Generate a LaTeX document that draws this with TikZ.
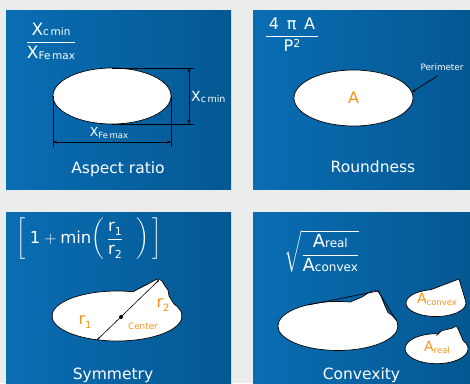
\RequirePackage{fix-cm}
\documentclass[tikz,border=0pt]{standalone}
\usepackage{amsmath}
\usepackage{fontspec}
\setmainfont{DejaVu Sans}
\usetikzlibrary{arrows.meta, positioning, calc}

\definecolor{bggray}{HTML}{EBECEC}
\definecolor{panelL}{HTML}{0A6DB3}
\definecolor{panelR}{HTML}{045892}
\definecolor{tagorange}{HTML}{F7941D}

\newcommand{\lowtxt}[3][0.25ex]{\raisebox{-#1}{\fontsize{#2}{#2}\selectfont #3}}

\begin{document}
\begin{tikzpicture}[x=1pt, y=-1pt,
    every node/.style={inner sep=0pt, text=white},
    panel/.style={left color=panelL, right color=panelR},
    blob/.style={draw=black, fill=white, line width=0.7pt},
    dimline/.style={black, line width=0.7pt},
    dimarrow/.style={dimline, {Stealth[length=4pt, width=3pt]}-{Stealth[length=4pt, width=3pt]}},
    caption/.style={anchor=base, font=\fontsize{15.5}{16}\selectfont},
    formula/.style={font=\fontsize{17}{18}\selectfont},
    tag/.style={text=tagorange},
  ]
  \useasboundingbox (0,0) rectangle (470,383);
  \fill[bggray] (0,0) rectangle (470,383);
  \foreach \px/\py/\pw/\ph in {6/10/225/179, 253/10/217/179, 6/212/225/171, 253/212/217/171}
    \shade[panel] (\px,\py) rectangle ++(\pw,\ph);

  % aspect ratio
  \draw[blob] (112,96) ellipse [x radius=59, y radius=28];
  \coordinate (ellTop) at (112,68);
  \coordinate (ellBot) at (112,124);
  \coordinate (ellLeft) at (53,96);
  \coordinate (ellRight) at (171,96);
  \coordinate (dimTopEnd) at (194,68);
  \coordinate (dimBotEnd) at (194,124);
  \coordinate (dimLeftEnd) at (53,147);
  \coordinate (dimRightEnd) at (171,147);
  \draw[dimline] (ellTop) -- (dimTopEnd);
  \draw[dimline] (ellBot) -- (dimBotEnd);
  \draw[dimline] (ellLeft) -- (dimLeftEnd);
  \draw[dimline] (ellRight) -- (dimRightEnd);
  \draw[dimarrow] ($(dimTopEnd)+(-5,0)$) -- ($(dimBotEnd)+(-5,0)$);
  \draw[dimarrow] ($(dimLeftEnd)+(0,-5)$) -- ($(dimRightEnd)+(0,-5)$);
  \node[font=\fontsize{14}{14}\selectfont, anchor=west] (xcmin) at (191,97) {X\lowtxt{9.5}{c\,min}};
  \node[font=\fontsize{12.5}{13}\selectfont] (xfemax) at (109,133) {X\lowtxt{8.5}{Fe\,max}};
  \node[formula] (ratio) at (51,41)
    {$\displaystyle\frac{\mbox{X\lowtxt[0pt]{10.5}{c\,min}}}{\mbox{X\lowtxt[0.1ex]{10.5}{Fe\,max}}}$};
  \node[caption] (capAspect) at (118,173) {Aspect ratio};

  % roundness
  \draw[blob] (353.5,98) ellipse [x radius=59.5, y radius=28];
  \node[tag, font=\fontsize{16}{16}\selectfont] (area) at (353.5,98) {A};
  \node[font=\fontsize{8.8}{9}\selectfont] (perim) at (442,67) {Perimeter};
  \coordinate (perimTip) at (412,92);
  \draw[dimline, -{Stealth[length=4pt, width=3pt]}] ($(perim.south)+(-4,5)$) -- (perimTip);
  \node[formula, font=\fontsize{16}{16}\selectfont] (round) at (292,35)
    {$\displaystyle\frac{\mbox{\,4\, π\, A\,}}{\mbox{P\raisebox{0.55ex}{\fontsize{11}{11}\selectfont 2}}}$};
  \node[caption] (capRound) at (373,172.7) {Roundness};

  % symmetry
  \draw[blob] (133,291.8) -- (140,288) -- (148,284) -- (155,280) -- (159,279) -- (162,281)
    -- (165,286) -- (168,290) -- (169,296) -- (174,304)
    arc[start angle=-28.7, end angle=284.3, x radius=65, y radius=25] -- cycle;
  \coordinate (radEnd1) at (97,340);
  \coordinate (radEnd2) at (159,280);
  \draw[black, line width=0.6pt, {Stealth[length=3pt, width=2.5pt]}-{Stealth[length=3pt, width=2.5pt]}] (radEnd1) -- (radEnd2);
  \node[circle, fill=black, minimum size=4pt] (ctr) at (121,317) {};
  \node[tag, font=\fontsize{16}{16}\selectfont] (rOne) at (85,322) {r\lowtxt[0.5ex]{10}{1}};
  \node[tag, font=\fontsize{16}{16}\selectfont] (rTwo) at (163,305) {r\lowtxt[0.5ex]{10}{2}};
  \node[tag, font=\fontsize{8.8}{9}\selectfont] (ctrLabel) at (143,326) {Center};
  \node[formula, font=\fontsize{16.5}{16.5}\selectfont, anchor=west] (symm) at (16,239)
    {$\displaystyle\bigg[\;\mbox{1}+\mbox{min}\bigg(\,\frac{\mbox{r\lowtxt[0.4ex]{11}{1}}}{\mbox{r\lowtxt[0.4ex]{11}{2}}}\;\;\;\bigg)\,\bigg]$};
  \node[caption] (capSymm) at (113,379.5) {Symmetry};

  % convexity
  \draw[blob] (350,302) -- (355,300) -- (362,297) -- (368,293) -- (373,291) -- (378,291)
    -- (381,296) -- (383,301) -- (385,306) -- (388,312.5)
    arc[start angle=-33.4, end angle=281.5, x radius=60, y radius=24.5] -- cycle;
  \coordinate (hullL) at (308,305);
  \coordinate (hullPeak) at (378,291);
  \coordinate (hullR) at (396,320);
  \draw[dimline] (hullL) -- (hullPeak) -- (hullR);
  \draw[blob] (430.8,289.7) -- (459,279) -- (465.5,300.7)
    arc[start angle=-10, end angle=260, x radius=30, y radius=13.5] -- cycle;
  \draw[blob] (438,334) -- (442,330.5) -- (447,329.5) -- (451.7,328.3) -- (455,326.7) -- (456.7,326.7)
    -- (458.3,329.3) -- (460,333.3) -- (463,340.5)
    arc[start angle=-33, end angle=273, x radius=31.5, y radius=15] -- cycle;
  \node[tag, font=\fontsize{14}{14}\selectfont] (aConvex) at (437,299) {A\lowtxt{8.5}{convex}};
  \node[tag, font=\fontsize{14}{14}\selectfont] (aReal) at (437,347) {A\lowtxt{8.5}{real}};
  \node[formula, font=\fontsize{18}{18}\selectfont, anchor=west] (conv) at (284,251)
    {$\displaystyle\sqrt{\frac{\mbox{A\lowtxt[0pt]{12}{real}}}{\mbox{A\lowtxt[0pt]{12}{convex}}}}$};
  \node[caption] (capConv) at (361.5,379.5) {Convexity};
\end{tikzpicture}
\end{document}
